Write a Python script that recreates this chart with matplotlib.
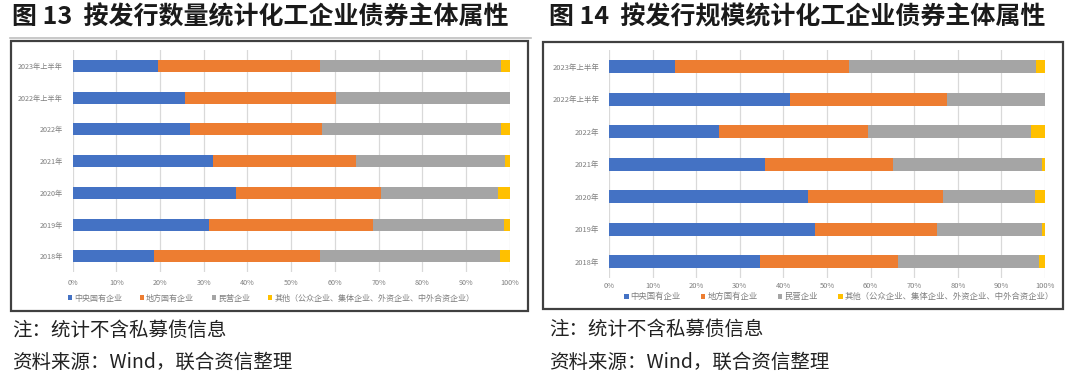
import matplotlib
matplotlib.use("Agg")
import matplotlib.pyplot as plt
from matplotlib.patches import Rectangle
from matplotlib.lines import Line2D
from matplotlib.ticker import PercentFormatter
import numpy as np

plt.rcParams['font.family'] = ['Noto Sans CJK SC', 'DejaVu Sans']

categories = ['2018年', '2019年', '2020年', '2021年', '2022年', '2022年上半年', '2023年上半年']
series_names = ['中央国有企业', '地方国有企业', '民营企业', '其他（公众企业、集体企业、外资企业、中外合资企业）']
colors = ['#4472C4', '#ED7D31', '#A5A5A5', '#FFC000']

# Figure 13: by issue count (%)
count_central = [18.6, 31.2, 37.4, 32.1, 26.9, 25.6, 19.5]
count_local = [38.1, 37.6, 33.2, 32.7, 30.1, 34.7, 37.2]
count_private = [41.0, 29.9, 26.7, 34.1, 41.1, 39.7, 41.4]
count_other = [2.3, 1.3, 2.7, 1.1, 1.9, 0.0, 1.9]

# Figure 14: by issue size (%)
size_central = [34.6, 47.2, 45.7, 35.7, 25.3, 41.5, 15.1]
size_local = [31.7, 28.0, 30.9, 29.5, 34.0, 36.0, 40.0]
size_private = [32.4, 24.2, 21.1, 34.1, 37.4, 22.5, 42.9]
size_other = [1.3, 0.6, 2.3, 0.7, 3.3, 0.0, 2.0]

xticks = [0, 10, 20, 30, 40, 50, 60, 70, 80, 90, 100]

W, H = 1080, 377
fig = plt.figure(figsize=(W / 100, H / 100), dpi=100)


def fx(px):
    return px / W


def fy(py):
    return 1 - py / H


def add_axes_px(x0, y0, x1, y1):
    return fig.add_axes([fx(x0), fy(y1), fx(x1) - fx(x0), fy(y0) - fy(y1)])


def draw_chart(ax, series, bar_h, tick_fs, label_pad_x, label_pad_y):
    y = np.arange(len(categories))
    left = np.zeros(len(categories))
    handles = []
    for vals, c, name in zip(series, colors, series_names):
        v = np.array(vals, dtype=float)
        b = ax.barh(y, v, left=left, height=bar_h, color=c, label=name, zorder=3)
        left = left + v
        handles.append(b)
    ax.set_xlim(0, 100)
    ax.set_ylim(-0.5, len(categories) - 0.5)
    ax.set_xticks(xticks)
    ax.xaxis.set_major_formatter(PercentFormatter(100, decimals=0))
    ax.set_yticks(y)
    ax.set_yticklabels(categories)
    for s in ax.spines.values():
        s.set_visible(False)
    ax.grid(axis='x', color='#D9D9D9', linewidth=0.9, zorder=0)
    ax.tick_params(axis='both', length=0, labelsize=tick_fs, labelcolor='#7F7F7F')
    ax.tick_params(axis='x', pad=label_pad_x)
    ax.tick_params(axis='y', pad=label_pad_y)
    ax.set_facecolor('none')
    return handles


# ---------- Left panel (图 13) ----------
fig.text(fx(12), fy(17), '图 13  按发行数量统计化工企业债券主体属性', fontsize=18,
         fontweight='bold', ha='left', va='center', color='#1a1a1a')
fig.add_artist(Line2D([fx(10), fx(531)], [fy(38), fy(38)], color='#BFBFBF', linewidth=1.2))
fig.add_artist(Rectangle((fx(11), fy(311)), fx(528) - fx(11), fy(41) - fy(311),
                         fill=False, edgecolor='#404040', linewidth=1.6))

axL = add_axes_px(72.7, 50.1, 509.6, 272.3)
hL = draw_chart(axL, [count_central, count_local, count_private, count_other],
                0.38, 5.2, 5, 7)
axL.legend(handles=hL, loc='center', bbox_to_anchor=(fx(271), fy(298)),
           bbox_transform=fig.transFigure, ncol=4, frameon=False, fontsize=5.8,
           handlelength=0.55, handleheight=0.55, handletextpad=0.25,
           columnspacing=2.2, labelcolor='#7F7F7F')

fig.text(fx(12), fy(330), '注：统计不含私募债信息', fontsize=14, ha='left', va='center',
         color='#222222')
fig.text(fx(12), fy(362), '资料来源：Wind，联合资信整理', fontsize=14, ha='left',
         va='center', color='#222222')

# ---------- Right panel (图 14) ----------
fig.text(fx(549), fy(17), '图 14  按发行规模统计化工企业债券主体属性', fontsize=18,
         fontweight='bold', ha='left', va='center', color='#1a1a1a')
fig.add_artist(Rectangle((fx(543), fy(309)), fx(1063) - fx(543), fy(42) - fy(309),
                         fill=False, edgecolor='#404040', linewidth=1.6))

axR = add_axes_px(609, 50.4, 1045, 278.2)
hR = draw_chart(axR, [size_central, size_local, size_private, size_other],
                0.4, 5.4, 2.5, 7)
axR.legend(handles=hR, loc='center', bbox_to_anchor=(fx(839), fy(296.5)),
           bbox_transform=fig.transFigure, ncol=4, frameon=False, fontsize=6.0,
           handlelength=0.55, handleheight=0.55, handletextpad=0.25,
           columnspacing=2.4, labelcolor='#7F7F7F', borderpad=0.1)

fig.text(fx(549), fy(329), '注：统计不含私募债信息', fontsize=14, ha='left', va='center',
         color='#222222')
fig.text(fx(549), fy(362), '资料来源：Wind，联合资信整理', fontsize=14, ha='left',
         va='center', color='#222222')

fig.savefig('out.png', dpi=100, facecolor='white')
